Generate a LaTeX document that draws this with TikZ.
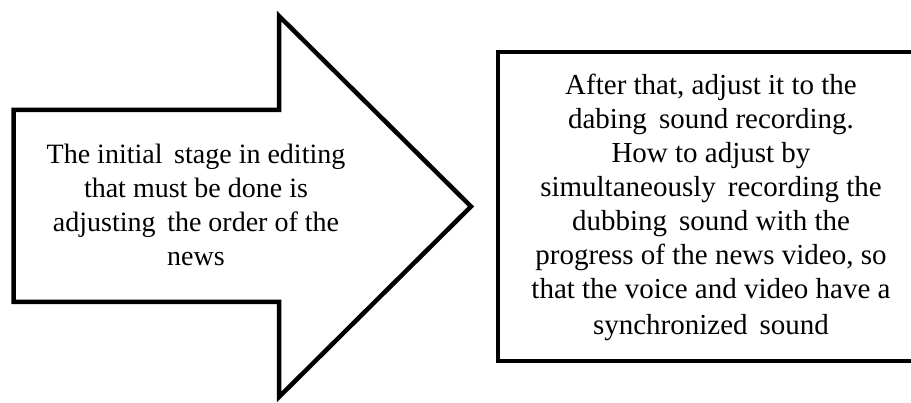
\documentclass[tikz,border=0pt]{standalone}
\usepackage{fontspec}
\setmainfont{Liberation Serif}
\begin{document}
\begin{tikzpicture}[x=1pt,y=-1pt,
  outline/.style={draw=black,line width=4.5pt,line join=miter},
  txt/.style={align=center,font=\fontsize{28}{34}\selectfont,inner sep=0pt}]
\useasboundingbox (0,0) rectangle (911,403);
\clip (0,0) rectangle (911,403);
\draw[outline] (13.5,110) -- (279,110) -- (279,16) -- (471,206.5) -- (279,397) -- (279,302) -- (13.5,302) -- cycle;
\draw[outline] (960,52) -- (498,52) -- (498,361) -- (960,361);
\node[txt] (first) at (196,204.5) {The initial\ \,stage in editing\\that must be done is\\adjusting\ \,the order of the\\news};
\node[txt,font=\fontsize{29}{34}\selectfont] (second) at (711,207.5) {After that, adjust it to the\\dabing\ \,sound recording.\\How to adjust by\\simultaneously\ \,recording the\\dubbing\ \,sound with the\\progress of the news video, so\\that the voice and video have a\\[2pt]synchronized\ \,sound};
\end{tikzpicture}
\end{document}
